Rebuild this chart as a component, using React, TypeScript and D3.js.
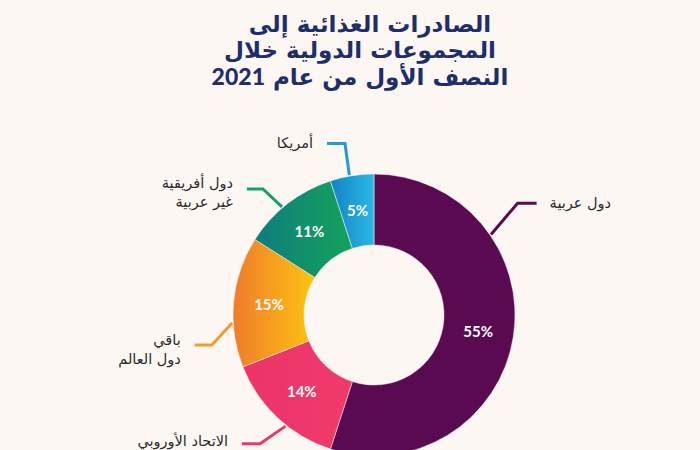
import React from 'react';
import * as d3 from 'd3';

// values
const regions = ['دول عربية', 'الاتحاد الأوروبي', 'باقي دول العالم', 'دول أفريقية غير عربية', 'أمريكا'];
const shares = [55, 14, 15, 11, 5];
const labelLines = [
  ['دول عربية'],
  ['الاتحاد الأوروبي'],
  ['باقي', 'دول العالم'],
  ['دول أفريقية', 'غير عربية'],
  ['أمريكا'],
];
const titleLines = ['الصادرات الغذائية إلى', 'المجموعات الدولية خلال', 'النصف الأول من عام'];
const titleYear = '2021';

const W = 700;
const H = 450;
const cx = 374;
const cy = 315;
const outerR = 141;
const innerR = 70;

// gradient stops per slice (left -> right)
const sliceColors = [
  ['#5a0a51', '#5a0a51'],
  ['#ec3466', '#ef3b6b'],
  ['#ef7b2b', '#fdc412'],
  ['#0d7d7c', '#15a25d'],
  ['#1284c6', '#2ab6e3'],
];
const lineColors = ['#5a0a51', '#e83a6b', '#f39a2d', '#14a06a', '#1f9cd6'];

// leader: start angle (deg), elbow angle, elbow radius, horizontal run
const leaders = [
  { a0: 55.5, a1: 52.1, r1: 182, h: 19 },
  { a0: 218.5, a1: 221.5, r1: 172, h: -18 },
  { a0: 266.8, a1: 259.5, r1: 165, h: -17 },
  { a0: 319.6, a1: 318.6, r1: 168, h: -16 },
  { a0: 350, a1: 350.4, r1: 174, h: -18 },
];

const rad = (d: number) => (d * Math.PI) / 180;

export default function App() {
  const pie = d3.pie<number>().sort(null).value((d) => d);
  const arcs = pie(shares);
  const arc = d3.arc<d3.PieArcDatum<number>>().innerRadius(innerR).outerRadius(outerR);
  const line = d3.line();

  return (
    <div style={{ position: 'fixed', left: 0, top: 0 }}>
      <svg width={W} height={H} style={{ display: 'block', background: '#fcf7f2' }}>
        <defs>
          {sliceColors.map((c, i) => (
            <linearGradient key={i} id={`g${i}`} x1="0" y1="0" x2="1" y2="0">
              <stop offset="0%" stopColor={c[0]} />
              <stop offset="100%" stopColor={c[1]} />
            </linearGradient>
          ))}
        </defs>
        <rect width={W} height={H} fill="#fcf7f2" />

        <g fontFamily="'DejaVu Sans', sans-serif" fontWeight="bold" fill="#1e2d6b" fontSize={23} textAnchor="middle">
          <text x={370} y={32}>{titleLines[0]}</text>
          <text x={360} y={58}>{titleLines[1]}</text>
          <text x={360} y={85}>
            <tspan fontFamily="Lato, 'Open Sans', sans-serif" fontWeight={900}>{titleYear}</tspan>
            <tspan> {titleLines[2]}</tspan>
          </text>
        </g>

        <g transform={`translate(${cx},${cy})`}>
          {arcs.map((a, i) => (
            <path key={i} d={arc(a) || ''} fill={`url(#g${i})`} stroke="#fcf7f2" strokeWidth={0.5} />
          ))}
          {arcs.map((a, i) => {
            const [x, y] = arc.centroid(a);
            return (
              <text key={i} x={x} y={y} dy="0.35em" textAnchor="middle" fill="#fff"
                fontFamily="Lato, 'Noto Sans', sans-serif" fontWeight="bold" fontSize={15}>
                {`${shares[i]}%`}
              </text>
            );
          })}
          {leaders.map((l, i) => {
            const p0 = d3.pointRadial(rad(l.a0), outerR + 1);
            const p1 = d3.pointRadial(rad(l.a1), l.r1);
            const p2: [number, number] = [p1[0] + l.h, p1[1]];
            const right = l.h > 0;
            const tx = p2[0] + (right ? 13 : -14);
            const lines = labelLines[i];
            const y0 = p2[1] - ((lines.length - 1) * 19) / 2 + 5 + (lines.length > 1 ? 4 : 0);
            return (
              <g key={i}>
                <path d={line([p0, p1, p2]) || ''} fill="none" stroke={lineColors[i]} strokeWidth={3} />
                <text fontFamily="'DejaVu Sans', sans-serif" fontSize={14.5} fill="#2a2a2a"
                  textAnchor={right ? 'start' : 'end'}>
                  {lines.map((t, j) => (
                    <tspan key={j} x={tx} y={Math.min(y0 + j * 19, H - cy - 4)}>{t}</tspan>
                  ))}
                </text>
              </g>
            );
          })}
        </g>
      </svg>
    </div>
  );
}
